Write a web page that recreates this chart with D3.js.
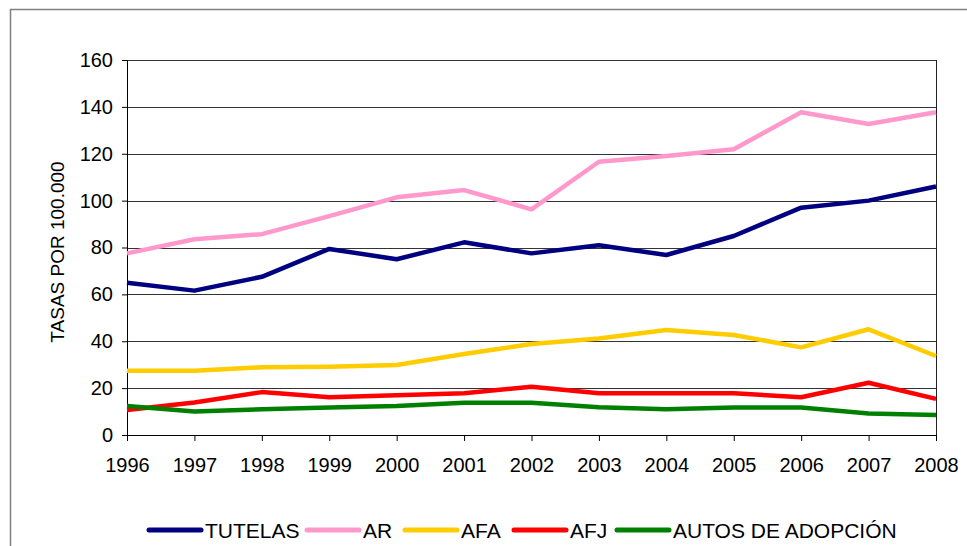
<!DOCTYPE html>
<html>
<head>
<meta charset="utf-8">
<script src="https://cdn.jsdelivr.net/npm/d3@7"></script>
<style>
    body { margin: 0; background: #fff; }
    svg { display: block; font-family: "Liberation Sans", Arial, sans-serif; }
</style>
</head>
<body>
<div id="chart"></div>
<script>
// chart data
const years = [1996, 1997, 1998, 1999, 2000, 2001, 2002, 2003, 2004, 2005, 2006, 2007, 2008];
const tutelas = [65, 61.6, 67.5, 79.4, 75, 82.2, 77.5, 81, 76.8, 84.9, 97, 100, 106];
const ar = [77.5, 83.5, 85.7, 93.4, 101.4, 104.5, 96.3, 116.6, 119, 121.9, 137.7, 132.7, 137.7];
const afa = [27.4, 27.4, 28.9, 29.1, 29.9, 34.6, 38.8, 41.2, 44.8, 42.7, 37.4, 45.1, 33.7];
const afj = [10.7, 13.9, 18.3, 16.1, 17, 17.8, 20.6, 17.8, 17.8, 17.8, 16.1, 22.3, 15.4];
const adopcion = [12.4, 10, 11, 11.7, 12.4, 13.8, 13.8, 11.8, 11, 11.7, 11.7, 9.2, 8.5];
const yTicks = [0, 20, 40, 60, 80, 100, 120, 140, 160];
const seriesNames = ['TUTELAS', 'AR', 'AFA', 'AFJ', 'AUTOS DE ADOPCIÓN'];
const yLabel = 'TASAS POR 100.000';

const series = [
    {name: seriesNames[0], values: tutelas, color: '#000080'},
    {name: seriesNames[1], values: ar, color: '#FF99CC'},
    {name: seriesNames[2], values: afa, color: '#FFCC00'},
    {name: seriesNames[3], values: afj, color: '#FF0000'},
    {name: seriesNames[4], values: adopcion, color: '#008000'}
];

const width = 967, height = 546;
const margin = {top: 60, right: 31, bottom: 111, left: 127};
const innerW = width - margin.left - margin.right;
const innerH = height - margin.top - margin.bottom;

const svg = d3.select('#chart').append('svg')
    .attr('width', width)
    .attr('height', height);

// outer frame (right and bottom run off the page)
svg.append('rect')
    .attr('x', 10.5).attr('y', 9.5)
    .attr('width', 980).attr('height', 560)
    .attr('fill', 'none')
    .attr('stroke', '#7f7f7f')
    .attr('stroke-width', 1.5);

const chart = svg.append('g')
    .attr('transform', `translate(${margin.left},${margin.top})`);

// scales
const xScale = d3.scalePoint()
    .domain(years)
    .range([0, innerW]);

const yScale = d3.scaleLinear()
    .domain([0, 160])
    .range([innerH, 0]);

// gridlines
chart.append('g')
    .selectAll('line')
    .data(yTicks.filter(d => d > 0))
    .join('line')
    .attr('x1', 0).attr('x2', innerW)
    .attr('y1', d => Math.round(yScale(d)) + 0.5)
    .attr('y2', d => Math.round(yScale(d)) + 0.5)
    .attr('stroke', '#333')
    .attr('stroke-width', 1);

// right border of plot area
chart.append('line')
    .attr('x1', innerW + 0.5).attr('x2', innerW + 0.5)
    .attr('y1', 0).attr('y2', innerH)
    .attr('stroke', '#222');

// axes
const xAxis = chart.append('g')
    .attr('transform', `translate(0,${innerH})`)
    .call(d3.axisBottom(xScale).tickSize(6).tickPadding(17).tickFormat(d3.format('d')));

const yAxis = chart.append('g')
    .call(d3.axisLeft(yScale).tickValues(yTicks).tickSize(5).tickPadding(9));

[xAxis, yAxis].forEach(ax => {
    ax.select('.domain').attr('stroke', '#000');
    ax.selectAll('.tick line').attr('stroke', '#000');
    ax.selectAll('.tick text')
        .attr('font-size', 20)
        .attr('font-family', '"Liberation Sans", Arial, sans-serif')
        .attr('fill', '#000');
});

// series lines
const lineGen = d3.line()
    .x((d, i) => xScale(years[i]))
    .y(d => yScale(d));

chart.selectAll('.series')
    .data(series)
    .join('path')
    .attr('class', 'series')
    .attr('d', d => lineGen(d.values))
    .attr('fill', 'none')
    .attr('stroke', d => d.color)
    .attr('stroke-width', 4.5)
    .attr('stroke-linejoin', 'round');

// y axis title
svg.append('text')
    .attr('transform', `translate(64,252) rotate(-90)`)
    .attr('text-anchor', 'middle')
    .attr('font-size', 19)
    .attr('fill', '#000')
    .text(yLabel);

// legend
const legendX = [147, 305, 403, 512, 615];
const legend = svg.append('g');
series.forEach((s, i) => {
    const g = legend.append('g').attr('transform', `translate(${legendX[i]},530)`);
    g.append('line')
        .attr('x1', 2).attr('x2', 54)
        .attr('stroke', s.color)
        .attr('stroke-width', 5)
        .attr('stroke-linecap', 'round');
    g.append('text')
        .attr('x', 58).attr('y', 7.5)
        .attr('font-size', 21)
        .attr('fill', '#000')
        .text(s.name);
});
</script>
</body>
</html>
